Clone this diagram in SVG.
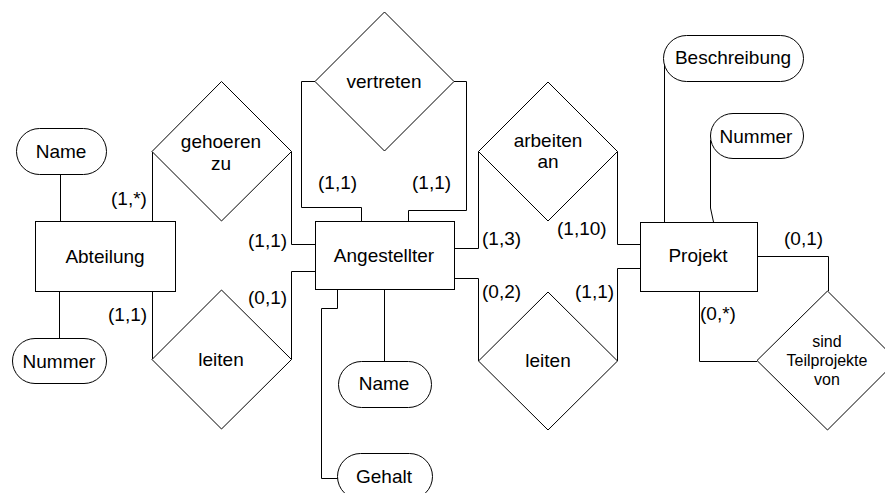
<svg xmlns="http://www.w3.org/2000/svg" width="885" height="493" viewBox="0 0 885 493">
<style>
.s{fill:#fff;stroke:#000;stroke-width:1}
.c{fill:none;stroke:#000;stroke-width:1}
text{font-family:"Liberation Sans",Arial,sans-serif;font-size:19px;fill:#000}
.m{text-anchor:middle}
.sm{font-size:16px}
</style>
<rect width="885" height="493" fill="#fff"/>
<g id="connectors" class="c">
<path d="M60.5 174 V221"/>
<path d="M59.5 291 V338"/>
<path d="M152.5 221 V151.5"/>
<path d="M291.5 151.5 V244.5 H315"/>
<path d="M152.5 291 V359.5"/>
<path d="M291.5 359.5 V271.5 H315"/>
<path d="M315 81.5 H301.5 V207.5 H361.5 V221"/>
<path d="M454 81.5 H466.5 V210.5 H408.5 V221"/>
<path d="M454 248.5 H478.5 V151.5"/>
<path d="M617.5 151.5 V244.5 H640"/>
<path d="M454 278.5 H478.5 V361"/>
<path d="M617.5 361 V268.5 H640"/>
<path d="M664.5 60 V222"/>
<path d="M710.5 140 V208 L713.5 222"/>
<path d="M757 256.5 H828.5 V291"/>
<path d="M699.5 291 V361.5 H757"/>
<path d="M384.5 289 V361"/>
<path d="M337.5 289 V308.5 H321.5 V478.5 H338"/>
</g>
<g id="abteilung"><rect class="s" x="35.5" y="221.5" width="140" height="70"/><text class="m" x="105" y="263">Abteilung</text></g>
<g id="angestellter"><rect class="s" x="315.5" y="221.5" width="139" height="68"/><text class="m" x="384" y="262">Angestellter</text></g>
<g id="projekt"><rect class="s" x="640.5" y="222.5" width="117" height="69"/><text class="m" x="698" y="262">Projekt</text></g>
<g id="abt-name"><rect class="s" x="16.5" y="128.5" width="90" height="46" rx="23"/><text class="m" x="61" y="158">Name</text></g>
<g id="abt-nummer"><rect class="s" x="12.5" y="338.5" width="94" height="45" rx="22.5"/><text class="m" x="59" y="368">Nummer</text></g>
<g id="proj-beschreibung"><rect class="s" x="663.5" y="35.5" width="140" height="46" rx="23"/><text class="m" x="733" y="64">Beschreibung</text></g>
<g id="proj-nummer"><rect class="s" x="710.5" y="113.5" width="93" height="45" rx="22.5"/><text class="m" x="756" y="143">Nummer</text></g>
<g id="ang-name"><rect class="s" x="338.5" y="361.5" width="93" height="46" rx="23"/><text class="m" x="384" y="390">Name</text></g>
<g id="ang-gehalt"><rect class="s" x="337.5" y="453.5" width="95" height="46" rx="23"/><text class="m" x="384" y="483">Gehalt</text></g>
<g id="gehoeren-zu"><polygon class="s" points="221.5,81.5 291.5,151.5 221.5,221 152,151.5"/><text class="m" x="221" y="148">gehoeren</text><text class="m" x="221" y="170">zu</text></g>
<g id="leiten-1"><polygon class="s" points="221.5,290 291.5,359.5 221.5,429 152,359.5"/><text class="m" x="221" y="366">leiten</text></g>
<g id="vertreten"><polygon class="s" points="384.5,12 454,81.5 384.5,151 315,81.5"/><text class="m" x="384" y="88">vertreten</text></g>
<g id="arbeiten-an"><polygon class="s" points="548,82 617.5,151.5 548,221 478.5,151.5"/><text class="m" x="548" y="147">arbeiten</text><text class="m" x="548" y="168">an</text></g>
<g id="leiten-2"><polygon class="s" points="548,292 617.5,361 548,430 478.5,361"/><text class="m" x="548" y="367">leiten</text></g>
<g id="sind-teilprojekte-von"><polygon class="s" points="827.5,291 897,360.5 827.5,430 757,360.5"/><text class="m sm" x="827" y="347">sind</text><text class="m sm" x="827" y="366">Teilprojekte</text><text class="m sm" x="827" y="385">von</text></g>
<g id="labels">
<text x="111" y="205">(1,*)</text>
<text x="248" y="247">(1,1)</text>
<text x="108" y="321">(1,1)</text>
<text x="248" y="304">(0,1)</text>
<text x="318" y="189">(1,1)</text>
<text x="412" y="189">(1,1)</text>
<text x="482" y="245">(1,3)</text>
<text x="557" y="235">(1,10)</text>
<text x="482" y="298">(0,2)</text>
<text x="575" y="298">(1,1)</text>
<text x="784" y="245">(0,1)</text>
<text x="700" y="320">(0,*)</text>
</g>
</svg>
